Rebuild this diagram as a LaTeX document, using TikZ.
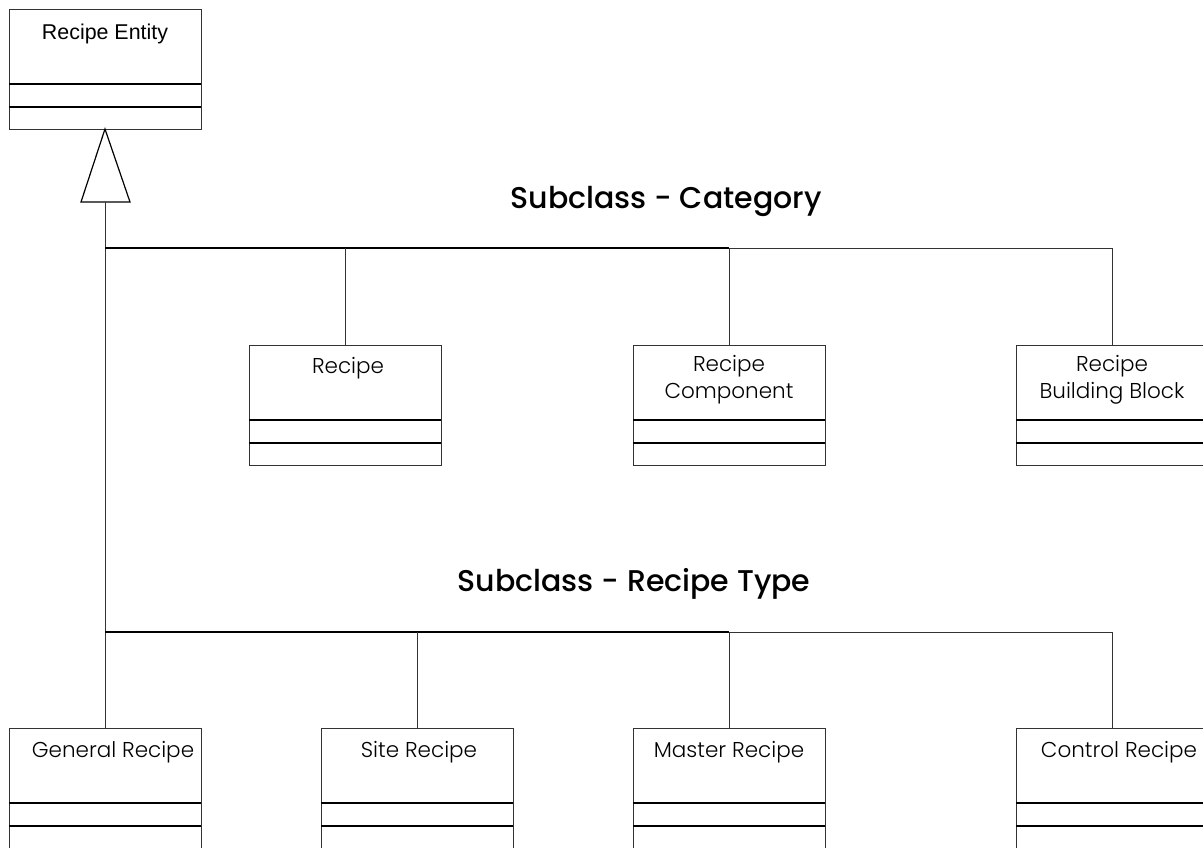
\documentclass[tikz,border=0pt]{standalone}
\usepackage{fontspec}
\setmainfont{Poppins}
\newfontfamily\arialfont{Liberation Sans}
\newfontfamily\namefont{Poppins Light}
\newfontfamily\headfont{Poppins Medium}
\begin{document}
\begin{tikzpicture}[x=1pt,y=-1pt,
  classbox/.style={draw=black!80, line width=1pt, minimum width=192pt,
    minimum height=120pt, anchor=north west, inner sep=0pt, outer sep=0pt},
  nametext/.style={anchor=center, align=center, inner sep=0pt,
    font=\namefont\fontsize{21.5}{27}\selectfont},
  link/.style={line width=1pt, draw=black!80},
  buslink/.style={line width=1.6pt},
  heading/.style={font=\headfont\fontsize{30}{34}\selectfont}]
\useasboundingbox (0,0) rectangle (1203,847);
\clip (0,0) rectangle (1203,847);

% class boxes: name compartment, attributes, operations
\node[classbox] (ent) at (9,9) {};
\node[classbox] (rcp) at (249,345) {};
\node[classbox] (cmp) at (633,345) {};
\node[classbox] (blk) at (1016,345) {};
\node[classbox] (gen) at (9,728) {};
\node[classbox] (sit) at (321,728) {};
\node[classbox] (mas) at (633,728) {};
\node[classbox] (ctl) at (1016,728) {};

\foreach \b in {ent,rcp,cmp,blk,gen,sit,mas,ctl}{
  \draw[line width=1.2pt] ([yshift=-75pt]\b.north west) -- ([yshift=-75pt]\b.north east);
  \draw[line width=1.2pt] ([yshift=-98pt]\b.north west) -- ([yshift=-98pt]\b.north east);
}

% class names
\node[nametext, font=\arialfont\fontsize{21.4}{26}\selectfont] (ent-t) at ([yshift=-25pt]ent.north) {Recipe Entity};
\node[nametext] (rcp-t) at ([xshift=3pt,yshift=-23pt]rcp.north) {Recipe};
\node[nametext] (cmp-t) at ([yshift=-35pt]cmp.north) {Recipe\\Component};
\node[nametext] (blk-t) at ([yshift=-35pt]blk.north) {Recipe\\Building Block};
\node[nametext] (gen-t) at ([xshift=8pt,yshift=-24pt]gen.north) {General Recipe};
\node[nametext] (sit-t) at ([xshift=2pt,yshift=-24pt]sit.north) {Site Recipe};
\node[nametext] (mas-t) at ([yshift=-24pt]mas.north) {Master Recipe};
\node[nametext] (ctl-t) at ([xshift=7pt,yshift=-24pt]ctl.north) {Control Recipe};

% generalization arrow head
\coordinate (tip) at (ent.south);
\coordinate (tribase) at ([yshift=-73pt]ent.south);
\draw[line width=1.2pt] (tip) -- ([xshift=-24pt]tribase) -- ([xshift=25pt]tribase) -- cycle;

% trunk
\draw[link] (tribase) -- (gen.north);

% category bus
\coordinate (bus1) at (105,248);
\draw[buslink] (bus1) -- (bus1 -| cmp.north);
\draw[link] (bus1 -| cmp.north) -- (bus1 -| blk.north) -- (blk.north);
\draw[link] (bus1 -| rcp.north) -- (rcp.north);
\draw[link] (bus1 -| cmp.north) -- (cmp.north);

% recipe type bus
\coordinate (bus2) at (105,632);
\draw[buslink] (bus2) -- (bus2 -| mas.north);
\draw[link] (bus2 -| mas.north) -- (bus2 -| ctl.north) -- (ctl.north);
\draw[link] (bus2 -| sit.north) -- (sit.north);
\draw[link] (bus2 -| mas.north) -- (mas.north);

% headings
\node[heading] (h1) at (666,201) {Subclass - Category};
\node[heading] (h2) at (634,584) {Subclass - Recipe Type};
\end{tikzpicture}
\end{document}
